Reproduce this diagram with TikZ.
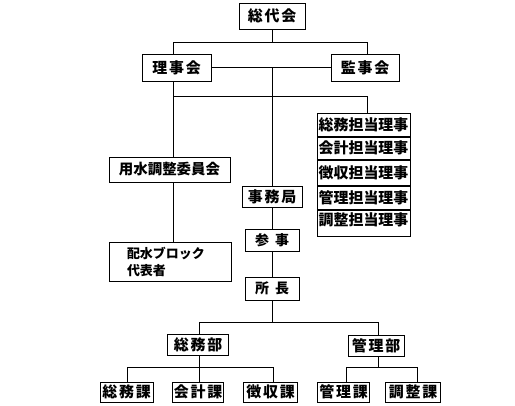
\documentclass[tikz,border=0pt]{standalone}
\usepackage{fontspec}
\newfontfamily\jp{Noto Sans CJK JP}
\newfontfamily\jpsp{Noto Sans CJK JP}[LetterSpace=12]
\usetikzlibrary{positioning}

\begin{document}
\begin{tikzpicture}[
        x=1bp, y=1bp,
        node distance=0bp,
        % 組織の箱
        orgbox/.style={
                rectangle,
                draw=black,
                line width=1bp,
                fill=white,
                inner sep=0pt,
                minimum height=21bp,
                text centered,
                font=\jpsp\bfseries\fontsize{15}{17}\selectfont
            },
        % 担当理事の欄
        rowbox/.style={
                rectangle,
                draw=black,
                line width=1bp,
                fill=white,
                inner sep=0pt,
                minimum width=93bp,
                text centered,
                font=\jp\bfseries\fontsize{15}{17}\selectfont
            },
        % 線
        link/.style={
                line width=0.8bp,
                color=black
            }
    ]

    \useasboundingbox[fill=white] (0,0) rectangle (515,-405);

    % 上段
    \node[orgbox, minimum width=66bp, minimum height=26bp] (sodai) at (272,-16) {総代会};
    \node[orgbox, minimum width=69bp, minimum height=27bp] (rijikai) at (176.5,-67.5) {理事会};
    \node[orgbox, minimum width=68bp, minimum height=27bp] (kanji) at (365,-67.5) {監事会};

    % 担当理事
    \node[rowbox, minimum height=23bp] (r1) at (363.5,-124.5) {総務担当理事};
    \node[rowbox, minimum height=22bp, below=of r1] (r2) {会計担当理事};
    \node[rowbox, minimum height=25bp, below=of r2] (r3) {徴収担当理事};
    \node[rowbox, minimum height=23bp, below=of r3] (r4) {管理担当理事};
    \node[rowbox, minimum height=26bp, text depth=8bp, below=of r4] (r5) {調整担当理事};

    % 左側
    \node[orgbox, minimum width=121bp, minimum height=25bp, font=\jp\bfseries\fontsize{14.5}{16}\selectfont] (yosui) at (169.5,-169.5) {用水調整委員会};
    \node[orgbox, minimum width=122bp, minimum height=39bp, text width=86bp, inner xsep=18bp, align=left,
        font=\jp\bfseries\fontsize{13}{17}\selectfont] (haisui) at (170,-261.5) {配水ブロック\\代表者};

    % 事務局
    \node[orgbox, minimum width=60bp] (jimukyoku) at (272,-196.5) {事務局};
    \node[orgbox, minimum width=54bp, minimum height=22bp, font=\jp\bfseries\fontsize{14}{16}\selectfont] (sanji) at (272,-240) {参\hspace{6bp}事};
    \node[orgbox, minimum width=54bp, minimum height=23bp, font=\jp\bfseries\fontsize{14}{16}\selectfont] (shocho) at (272,-288.5) {所\hspace{6bp}長};

    % 部
    \node[orgbox, minimum width=61bp] (somubu) at (198,-344.5) {総務部};
    \node[orgbox, minimum width=56bp] (kanribu) at (376,-345.5) {管理部};

    % 課
    \node[orgbox, minimum width=53bp, minimum height=20bp] (somuka) at (126.5,-392) {総務課};
    \node[orgbox, minimum width=51bp, minimum height=20bp] (kaikeika) at (198,-392) {会計課};
    \node[orgbox, minimum width=54bp, minimum height=20bp] (choshuka) at (270.5,-392) {徴収課};
    \node[orgbox, minimum width=52bp, minimum height=20bp] (kanrika) at (343.5,-392) {管理課};
    \node[orgbox, minimum width=55bp, minimum height=20bp] (choseika) at (413,-392) {調整課};

    % 分岐点
    \coordinate (top) at (272,-42);
    \coordinate (tl) at (173,-42);
    \coordinate (tr) at (367,-42);
    \coordinate (ml) at (173,-96);
    \coordinate (mr) at (367,-96);
    \coordinate (bl) at (199,-322);
    \coordinate (br) at (378,-322);
    \coordinate (sl) at (127,-367);
    \coordinate (sr) at (273,-367);
    \coordinate (kl) at (346,-367);
    \coordinate (kr) at (417,-367);

    % 線
    \draw[link] (sodai) -- (top);
    \draw[link] (tl |- rijikai.north) -- (tl) -- (tr) -- (tr |- kanji.north);
    \draw[link] (rijikai) -- (kanji);
    \draw[link] (top |- rijikai.east) -- (jimukyoku);
    \draw[link] (ml |- rijikai.south) -- (ml |- yosui.north);
    \draw[link] (ml) -- (mr) -- (mr |- r1.north);
    \draw[link] (ml |- yosui.south) -- (ml |- haisui.north);
    \draw[link] (jimukyoku) -- (sanji);
    \draw[link] (sanji) -- (shocho);
    \draw[link] (shocho) -- (shocho |- bl);
    \draw[link] (bl |- somubu.north) -- (bl) -- (br) -- (br |- kanribu.north);
    \draw[link] (bl |- somubu.south) -- (bl |- kaikeika.north);
    \draw[link] (sl |- somuka.north) -- (sl) -- (sr) -- (sr |- choshuka.north);
    \draw[link] (br |- kanribu.south) -- (br |- kl);
    \draw[link] (kl |- kanrika.north) -- (kl) -- (kr) -- (kr |- choseika.north);

\end{tikzpicture}
\end{document}
